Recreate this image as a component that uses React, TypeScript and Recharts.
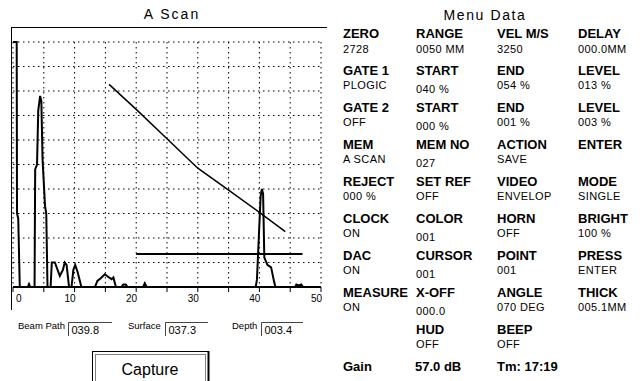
import React from 'react';
import { ComposedChart, Line, XAxis, YAxis, CartesianGrid } from 'recharts';

const FONT = '"Liberation Sans", Arial, sans-serif';

// A-scan trace: [beam path mm, amplitude %]
const tracePoints = [
  [0, 100], [0.6, 100], [0.65, 30], [0.85, 28], [1.1, 0],
  [2.4, 0], [2.6, 1.2], [2.8, 0],
  [3.5, 0], [3.6, 48], [3.9, 50], [4.1, 72], [4.4, 78], [4.6, 76], [4.8, 52], [5.2, 33], [5.4, 30], [5.6, 0],
  [6.1, 0], [6.3, 10], [6.8, 10], [7.6, 4.5], [8.1, 7], [8.4, 10], [8.7, 9], [9.1, 0],
  [9.5, 0], [9.8, 7], [10.1, 9], [10.5, 6], [11.1, 0],
  [13.3, 0], [13.7, 2.5], [14.2, 3.5], [14.9, 5.2], [15.7, 3.7], [16.0, 3.2], [16.3, 3.9], [16.7, 0],
  [17.6, 0], [17.9, 1], [18.3, 1], [18.6, 0],
  [21.1, 0], [21.4, 1.5], [21.7, 0],
  [39.4, 0], [39.6, 3], [39.9, 20], [40.2, 37], [40.4, 40], [40.6, 38], [40.8, 12], [41.3, 9], [41.9, 8], [42.4, 2], [42.6, 0],
  [45.8, 0], [46.0, 1], [46.4, 0.6], [46.8, 1], [47.1, 0],
  [50, 0],
];

// DAC curve
const dacPoints = [[15.6, 82.7], [20, 72.5], [25, 60.5], [30, 48.5], [35, 39.5], [40, 30.5], [44.2, 22.6]];

// gate 1: start 40 %, width 54 %, level 13 %
const gatePoints = [[20, 13.5], [47, 13.5]];

const xTicks = [0, 5, 10, 15, 20, 25, 30, 35, 40, 45, 50];
const yTicks = [0, 10, 20, 30, 40, 50, 60, 70, 80, 90, 100];

const menuHeads = [
  ['ZERO', 'RANGE', 'VEL M/S', 'DELAY'],
  ['GATE 1', 'START', 'END', 'LEVEL'],
  ['GATE 2', 'START', 'END', 'LEVEL'],
  ['MEM', 'MEM NO', 'ACTION', 'ENTER'],
  ['REJECT', 'SET REF', 'VIDEO', 'MODE'],
  ['CLOCK', 'COLOR', 'HORN', 'BRIGHT'],
  ['DAC', 'CURSOR', 'POINT', 'PRESS'],
  ['MEASURE', 'X-OFF', 'ANGLE', 'THICK'],
  ['', 'HUD', 'BEEP', ''],
];
const menuValues = [
  ['2728', '0050 MM', '3250', '000.0MM'],
  ['PLOGIC', '040 %', '054 %', '013 %'],
  ['OFF', '000 %', '001 %', '003 %'],
  ['A SCAN', '027', 'SAVE', ''],
  ['000 %', 'OFF', 'ENVELOP', 'SINGLE'],
  ['ON', '001', 'OFF', '100 %'],
  ['ON', '001', '001', 'ENTER'],
  ['ON', '000.0', '070 DEG', '005.1MM'],
  ['', 'OFF', 'OFF', ''],
];
const statusLine = ['Gain', '57.0 dB', 'Tm: 17:19'];
const menuCols = [343, 416, 497, 578];

const readLabels = ['Beam Path', 'Surface', 'Depth'];
const readValues = ['039.8', '037.3', '003.4'];
const readLabelX = [18, 128, 232];
const readBoxX = [68, 165, 261];
const readBoxEnd = [112, 208, 303];

const toRows = (pts: number[][]) => pts.map(([x, y]) => ({ x, y }));

const XTick = (props: any) => {
  const { x, y, payload } = props;
  const v = payload.value;
  if (v % 10 !== 0) return <g />;
  const first = v === 0;
  return (
    <text
      x={first ? x + 3 : x + 1}
      y={y + 10}
      textAnchor={first ? 'start' : 'end'}
      fontSize={10}
      fontFamily={FONT}
      fill="#000"
    >
      {v}
    </text>
  );
};

const Overlay = () => {
  const rowY = (i: number) => 33.5 + 36.95 * i;
  return (
    <svg width={640} height={381} style={{ position: 'absolute', left: 0, top: 0 }} fontFamily={FONT}>
      <rect width={640} height={381} fill="#fff" />
      {/* frame */}
      <line x1={11} y1={27.5} x2={327} y2={27.5} stroke="#000" />
      <line x1={11.5} y1={27} x2={11.5} y2={310} stroke="#000" />

      <text x={172} y={18.8} textAnchor="middle" fontSize={14} letterSpacing={2}>A Scan</text>
      <text x={485} y={19.7} textAnchor="middle" fontSize={14} letterSpacing={1.6}>Menu Data</text>

      {menuHeads.map((row, i) =>
        row.map((h, c) => {
          const y = rowY(i);
          const vOff = i === 0 ? 16 : c === 1 && i !== 4 && i !== 8 ? 18.5 : 14.7;
          return (
            <g key={`${i}-${c}`}>
              {h && (
                <text x={menuCols[c]} y={y + 4.65} fontSize={13} fontWeight="bold">{h}</text>
              )}
              {menuValues[i][c] && (
                <text x={menuCols[c]} y={y + vOff + 3.9} fontSize={11} letterSpacing={0.4}>
                  {menuValues[i][c]}
                </text>
              )}
            </g>
          );
        })
      )}
      {statusLine.map((s, c) => (
        <text key={s} x={menuCols[c] - (c === 1 ? 1 : 0)} y={rowY(9) + 4.65} fontSize={13} fontWeight="bold">{s}</text>
      ))}

      {readLabels.map((l, i) => (
        <g key={l}>
          <text x={readLabelX[i]} y={329.4} fontSize={9.5}>{l}</text>
          <path d={`M${readBoxX[i] + 0.5},336 V322.5 H${readBoxEnd[i]}`} fill="none" stroke="#444" />
          <text x={readBoxX[i] + 3.5} y={334.2} fontSize={11}>{readValues[i]}</text>
        </g>
      ))}

      {/* Capture button */}
      <rect x={92.5} y={351.5} width={116} height={40} fill="none" stroke="#000" />
      <line x1={208.5} y1={351} x2={208.5} y2={381} stroke="#000" strokeWidth={2} />
      <rect x={95.5} y={354.5} width={110} height={40} fill="none" stroke="#000" strokeDasharray="1 1" />
      <text x={150} y={374.7} textAnchor="middle" fontSize={16}>Capture</text>
    </svg>
  );
};

export default function App() {
  return (
    <div style={{ position: 'absolute', left: 0, top: 0, width: 640, height: 381, background: '#fff', overflow: 'hidden' }}>
      <Overlay />
      <div style={{ position: 'absolute', left: 0, top: 0 }}>
        <ComposedChart width={330} height={320} margin={{ top: 42, right: 9, bottom: 3, left: 13 }}>
          <CartesianGrid stroke="#000" strokeDasharray="1.5 3.5" />
          <XAxis
            type="number"
            dataKey="x"
            domain={[0, 50]}
            ticks={xTicks}
            height={30}
            axisLine={{ stroke: '#000', strokeWidth: 2 }}
            tickLine={{ stroke: '#000' }}
            tickSize={5}
            tickMargin={0}
            tick={<XTick />}
            interval={0}
          />
          <YAxis type="number" domain={[0, 100]} ticks={yTicks} hide />
          <Line data={toRows(gatePoints)} dataKey="y" type="linear" dot={false} stroke="#000" strokeWidth={2} isAnimationActive={false} />
          <Line data={toRows(dacPoints)} dataKey="y" type="linear" dot={false} stroke="#000" strokeWidth={1.5} isAnimationActive={false} />
          <Line data={toRows(tracePoints)} dataKey="y" type="linear" dot={false} stroke="#000" strokeWidth={2} isAnimationActive={false} />
        </ComposedChart>
      </div>
    </div>
  );
}
